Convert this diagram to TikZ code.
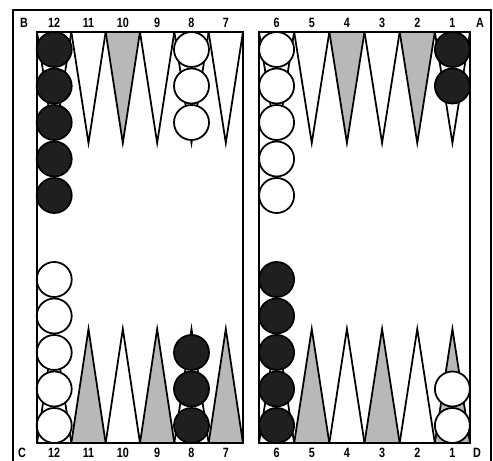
\documentclass[tikz,border=0pt]{standalone}
\usepackage{fontspec}
\setsansfont{Liberation Sans}[FakeStretch=0.8]

\begin{document}
\begin{tikzpicture}[x=0.03cm,y=0.03cm,
  font=\sffamily\bfseries\fontsize{11.5}{11.5}\selectfont,
  frm/.style={line width=1.7pt},
  pnt/.style={draw,line width=1.5pt,line join=miter,miter limit=25},
  blk/.style={circle,draw,line width=1.5pt,fill=black!88,minimum size=1.05cm,inner sep=0pt},
  wht/.style={circle,draw,line width=1.5pt,fill=white,minimum size=1.05cm,inner sep=0pt},
  lbl/.style={inner sep=0pt,text height=1.6ex,text depth=0pt}]
\useasboundingbox (0,0) rectangle (493,461);
\fill[white] (0,0) rectangle (493,461);
% outer frame
\draw[frm] (13,0) -- (13,451) -- (491,451) -- (491,0);
% points, left half
\foreach \n/\f [count=\i from 0] in {12/white,11/white,10/black!28,9/white,8/white,7/white}{
  \path[pnt,fill=\f] ({37+34.33*\i},429) -- ({37+34.33*(\i+0.5)},318) -- ({37+34.33*(\i+1)},429);
  \node[lbl] (t\n) at ({37+34.33*(\i+0.5)},438) {\n};
}
\foreach \n/\f [count=\i from 0] in {12/white,11/black!28,10/white,9/black!28,8/white,7/black!28}{
  \path[pnt,fill=\f] ({37+34.33*\i},18) -- ({37+34.33*(\i+0.5)},132) -- ({37+34.33*(\i+1)},18);
  \node[lbl] (b\n) at ({37+34.33*(\i+0.5)},8) {\n};
}
% points, right half
\foreach \n/\f [count=\i from 0] in {6/white,5/white,4/black!28,3/white,2/black!28,1/white}{
  \path[pnt,fill=\f] ({259+35.17*\i},429) -- ({259+35.17*(\i+0.5)},318) -- ({259+35.17*(\i+1)},429);
  \node[lbl] (t\n) at ({259+35.17*(\i+0.5)},438) {\n};
}
\foreach \n/\f [count=\i from 0] in {6/white,5/black!28,4/white,3/black!28,2/white,1/black!28}{
  \path[pnt,fill=\f] ({259+35.17*\i},18) -- ({259+35.17*(\i+0.5)},132) -- ({259+35.17*(\i+1)},18);
  \node[lbl] (b\n) at ({259+35.17*(\i+0.5)},8) {\n};
}
% checkers
\foreach \k in {0,...,4}{
  \node[blk] (bk12-\k) at (54.2,{411.5-36.5*\k}) {};
  \node[wht] (wt12-\k) at (54.2,{35.5+36.5*\k}) {};
  \node[wht] (wt6-\k) at (276.6,{411.5-36.5*\k}) {};
  \node[blk] (bk6-\k) at (276.6,{35.5+36.5*\k}) {};
}
\foreach \k in {0,1,2}{
  \node[wht] (wt8-\k) at (191.5,{411.5-36.5*\k}) {};
  \node[blk] (bk8-\k) at (191.5,{35.5+36.5*\k}) {};
}
\foreach \k in {0,1}{
  \node[blk] (bk1-\k) at (452.4,{411.5-36.5*\k}) {};
  \node[wht] (wt1-\k) at (452.4,{35.5+36.5*\k}) {};
}
% board halves
\draw[frm] (37,18) rectangle (243,429);
\draw[frm] (259,18) rectangle (470,429);
% corners
\node[lbl] (cB) at (24,438) {B};
\node[lbl] (cA) at (480,438) {A};
\node[lbl] (cC) at (22,8) {C};
\node[lbl] (cD) at (477,8) {D};
\end{tikzpicture}
\end{document}
